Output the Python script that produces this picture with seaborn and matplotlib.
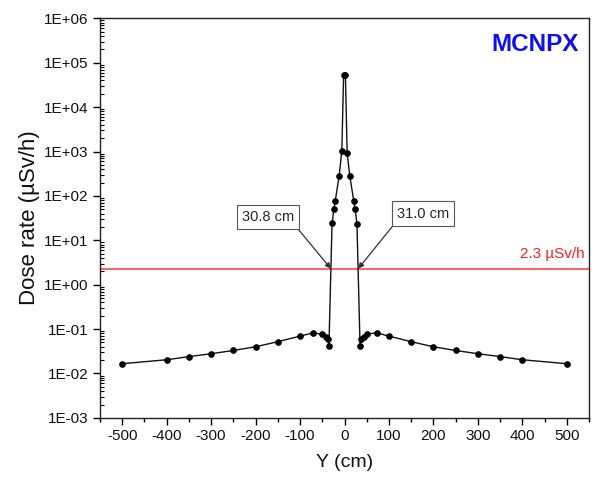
import numpy as np
import pandas as pd
import matplotlib
matplotlib.use("Agg")
import matplotlib.pyplot as plt
import matplotlib.ticker as mticker
import seaborn as sns

# ---- data ----
y_cm = [-500, -400, -350, -300, -250, -200, -150, -100, -70, -50, -42, -38, -35,
        -28, -24, -21, -12, -6, -2,
        2, 6, 12, 21, 24, 28,
        35, 38, 44, 51, 72, 100, 150, 200, 250, 300, 350, 400, 500]
dose = [0.0166, 0.0204, 0.024, 0.0279, 0.033, 0.040, 0.052, 0.0695, 0.0826, 0.0758, 0.068, 0.0605, 0.042,
        24.4, 50, 75, 284, 1050, 53000,
        53000, 910, 277, 75, 50, 23.5,
        0.041, 0.0605, 0.068, 0.077, 0.0826, 0.0695, 0.052, 0.040, 0.033, 0.0279, 0.024, 0.0204, 0.0166]
limit = 2.3
limit_label = "2.3 µSv/h"
cross_left, cross_right = -30.8, 31.0
cross_labels = ["30.8 cm", "31.0 cm"]
x_ticks = [-500, -400, -300, -200, -100, 0, 100, 200, 300, 400, 500]
y_ticks = [1e-3, 1e-2, 1e-1, 1e0, 1e1, 1e2, 1e3, 1e4, 1e5, 1e6]
y_ticklabels = ["1E-03", "1E-02", "1E-01", "1E+00", "1E+01", "1E+02", "1E+03", "1E+04", "1E+05", "1E+06"]

df = pd.DataFrame({"Y": y_cm, "Dose": dose})

sns.set_style("white")
plt.rcParams["font.family"] = ["Liberation Sans", "DejaVu Sans"]

fig = plt.figure(figsize=(5.95, 4.82), dpi=100)
ax = fig.add_axes([0.168, 0.133, 0.822, 0.829])

sns.lineplot(data=df, x="Y", y="Dose", sort=False, color="#111111", lw=1.0,
             marker="o", markersize=4, markeredgecolor="black",
             markerfacecolor="black", ax=ax)

ax.set_yscale("log")
ax.set_xlim(-550, 550)
ax.set_ylim(1e-3, 1e6)

ax.axhline(limit, color="#ff5555", lw=1.3, zorder=1)
ax.text(0.99, limit * 1.45, limit_label, color="#ff2020", fontsize=11,
        ha="right", va="bottom", transform=ax.get_yaxis_transform())

# annotations
box = dict(boxstyle="square,pad=0.35", fc="white", ec="#555555", lw=0.8)
ax.annotate(cross_labels[0], xy=(cross_left, limit), xytext=(-172, 33),
            fontsize=10.5, ha="center", va="center", bbox=box,
            arrowprops=dict(arrowstyle="-|>", color="#333333", lw=0.9,
                            mutation_scale=8, relpos=(1, 0), shrinkA=0, shrinkB=0))
ax.annotate(cross_labels[1], xy=(cross_right, limit), xytext=(177, 40),
            fontsize=10.5, ha="center", va="center", bbox=box,
            arrowprops=dict(arrowstyle="-|>", color="#333333", lw=0.9,
                            mutation_scale=8, relpos=(0, 0), shrinkA=0, shrinkB=0))

ax.text(0.978, 0.935, "MCNPX", color="#1010ee", fontsize=17.5, fontweight="bold",
        ha="right", va="center", transform=ax.transAxes)

# ticks
ax.set_xticks(x_ticks)
ax.set_xticklabels([str(v) for v in x_ticks])
ax.xaxis.set_minor_locator(mticker.MultipleLocator(50))
ax.set_yticks(y_ticks)
ax.set_yticklabels(y_ticklabels)
ax.yaxis.set_minor_locator(mticker.LogLocator(base=10, subs=np.arange(2, 10), numticks=20))
ax.yaxis.set_minor_formatter(mticker.NullFormatter())

ax.tick_params(axis="both", which="major", direction="out", length=5, width=1,
               labelsize=11, color="black", labelcolor="#111111", pad=3)
ax.tick_params(axis="x", which="minor", direction="out", length=3, width=1, color="black")
ax.tick_params(axis="y", which="minor", direction="in", length=3, width=0.8, color="black")
ax.tick_params(left=True, bottom=True, which="both")

for s in ax.spines.values():
    s.set_color("#222222")
    s.set_linewidth(1.0)
    s.set_visible(True)

ax.set_xlabel("Y (cm)", fontsize=14, color="#111111", labelpad=8)
ax.set_ylabel("Dose rate (µSv/h)", fontsize=16, color="#111111", labelpad=3)

fig.savefig("out.png", dpi=100)
